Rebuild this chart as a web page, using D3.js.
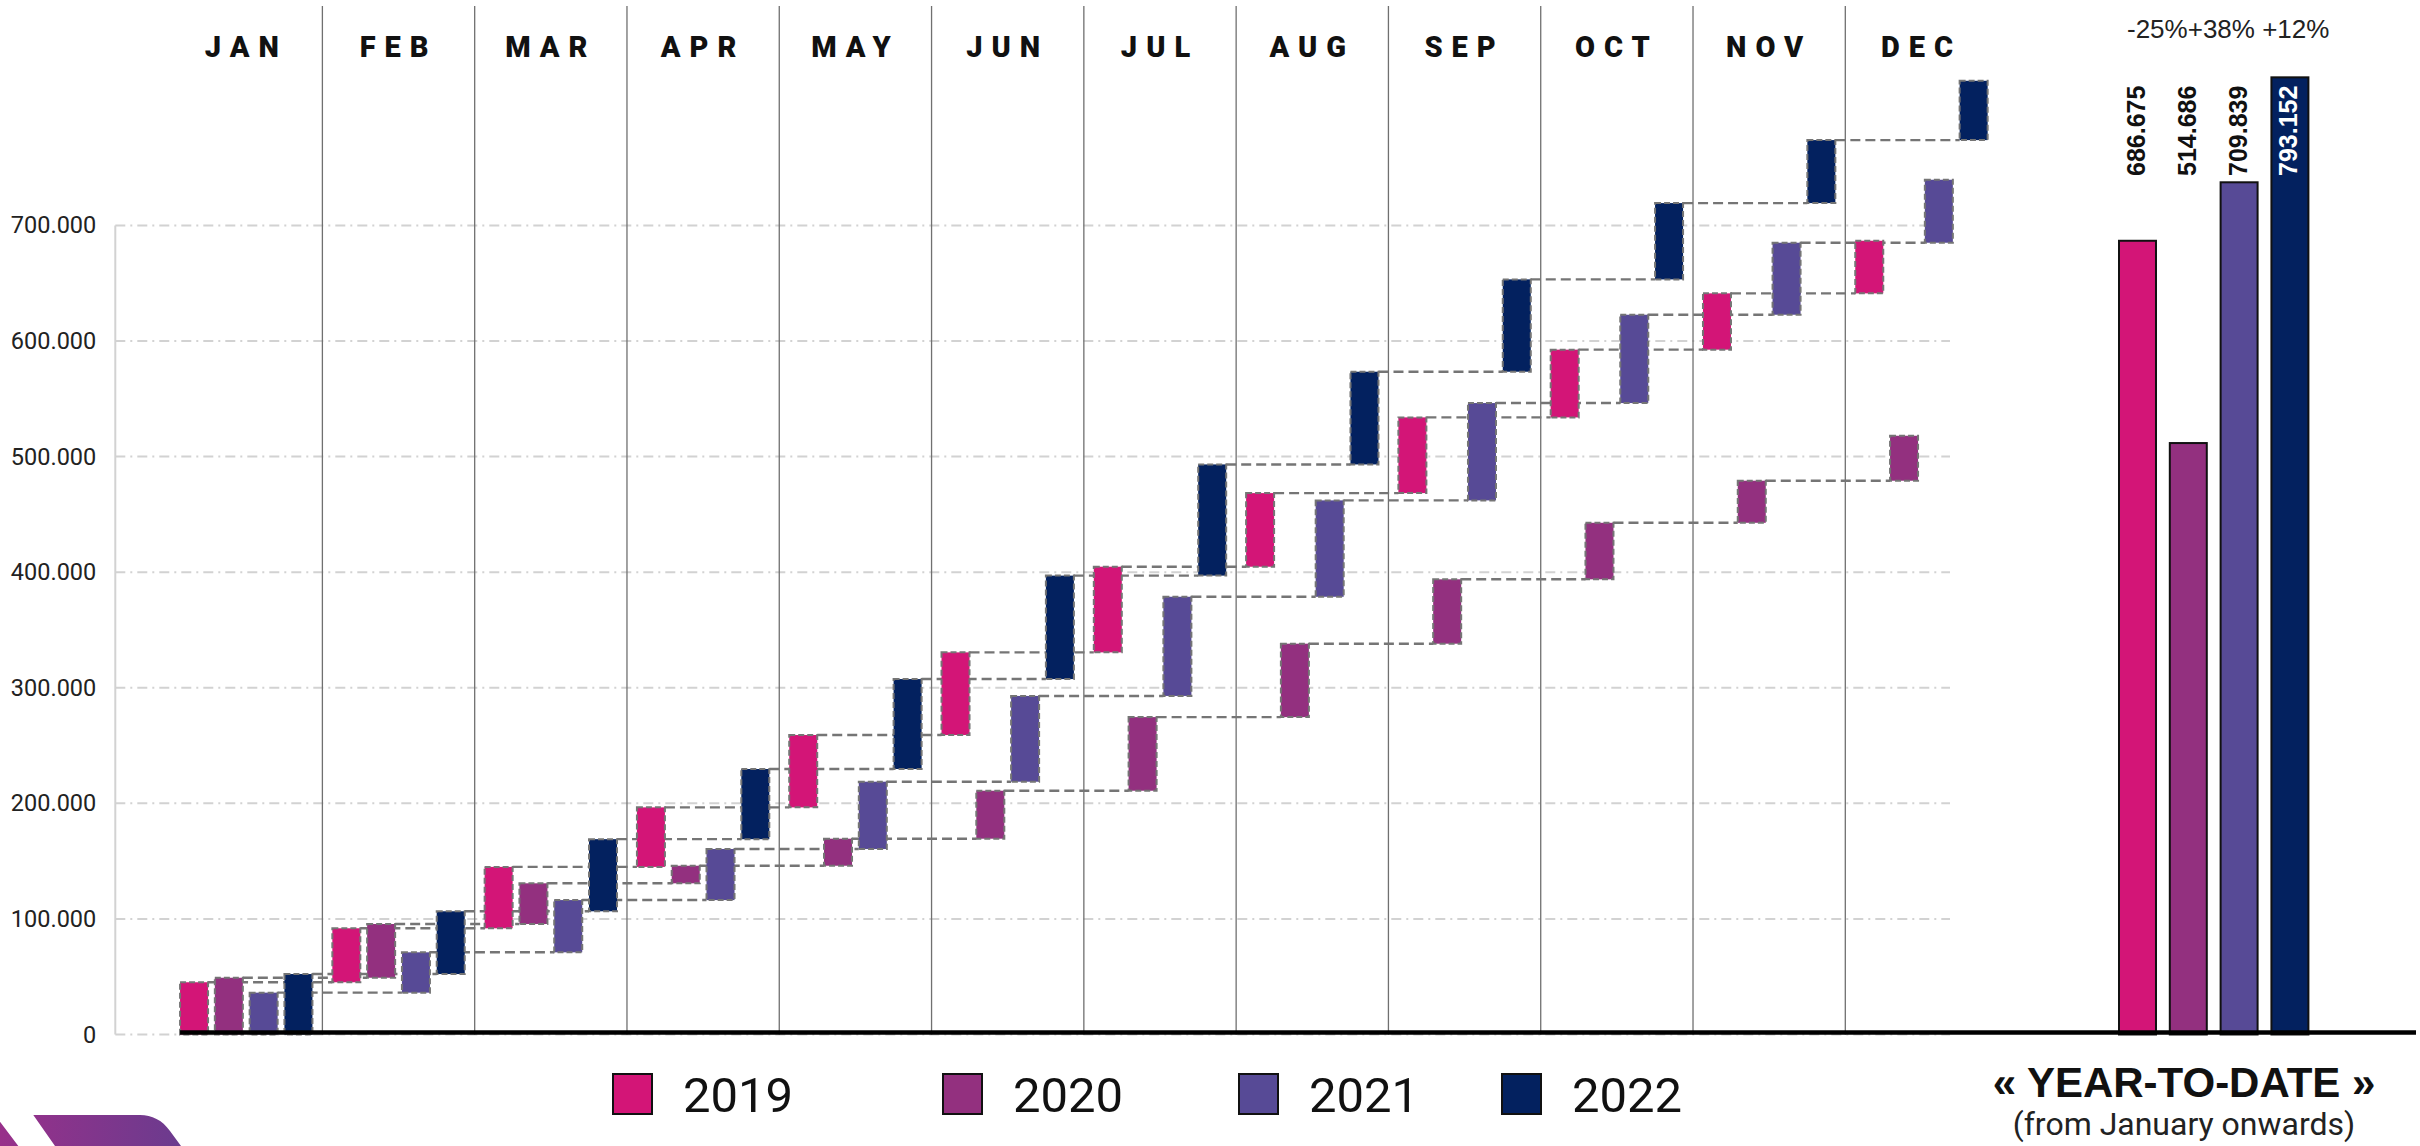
<!DOCTYPE html>
<html>
<head>
<meta charset="utf-8">
<script src="https://cdn.jsdelivr.net/npm/d3@7"></script>
<style>
  body { margin: 0; background: #fff; }
  svg { display: block; }
</style>
</head>
<body>
<div id="chart"></div>
<script>
"use strict";

// categories
const months = ["JAN", "FEB", "MAR", "APR", "MAY", "JUN", "JUL", "AUG", "SEP", "OCT", "NOV", "DEC"];
const years = ["2019", "2020", "2021", "2022"];
const yearColors = ["#d31577", "#93307f", "#574a96", "#03215f"];

// running total at the end of each month
const total2019 = [45200, 91900, 145000, 196500, 259100, 330600, 404700, 468400, 533900, 592500, 641200, 686700];
const total2020 = [49100, 95600, 130800, 146000, 169400, 210900, 274600, 338100, 393800, 442700, 479100, 518000];
const total2021 = [36200, 71100, 116300, 160500, 218700, 292900, 378700, 462100, 546300, 622700, 685000, 739500];
const total2022 = [52300, 106600, 169000, 229700, 307500, 397000, 493200, 573400, 653300, 719300, 773800, 825100];

const yTicks = [0, 100000, 200000, 300000, 400000, 500000, 600000, 700000];

// year-to-date panel
const ytdBars = [686700, 511700, 737300, 828100];
const ytdLabels = ["686.675", "514.686", "709.839", "793.152"];
const ytdChange = ["-25%", "+38%", "+12%"];

// layout
const msm = {
    width: 2420,
    height: 1146,
    axisX: 115.3,
    bandLeft: 170.1,
    bandRight: 1997.6,
    gridRight: 1950,
    yZero: 1034.5,
    yTop: 225.4,
    ytdLeft: 2119,
    ytdRight: 2308.4
};
const legendX = [613, 943, 1239, 1502];

let svgContainer = "";

window.onload = function () {
    svgContainer = d3.select("#chart")
        .append("svg")
        .attr("width", msm.width)
        .attr("height", msm.height);
    makeChart();
}

function makeChart() {
    const totals = [total2019, total2020, total2021, total2022];

    let y = d3.scaleLinear()
        .domain([0, 700000])
        .range([msm.yZero, msm.yTop]);

    let xMonth = d3.scaleBand()
        .domain(months)
        .range([msm.bandLeft, msm.bandRight]);

    let xYear = d3.scaleBand()
        .domain(years)
        .range([0, xMonth.bandwidth()])
        .paddingInner(0.195)
        .paddingOuter(0.286);

    // logo shape bottom left
    let defs = svgContainer.append("defs");
    let grad = defs.append("linearGradient").attr("id", "logoGrad");
    grad.append("stop").attr("offset", "0%").attr("stop-color", "#98308a");
    grad.append("stop").attr("offset", "100%").attr("stop-color", "#6b3b8e");
    svgContainer.append("path")
        .attr("d", "M0,1121.7 L18.3,1146 L0,1146 Z M33.3,1115 L140,1115 C152,1115 162,1120 170,1131 L181,1146 L55,1146 Z")
        .attr("fill", "url(#logoGrad)");

    // horizontal grid
    svgContainer.append("g")
        .selectAll("line")
        .data(yTicks)
        .enter()
        .append("line")
        .attr("x1", msm.axisX)
        .attr("x2", msm.gridRight)
        .attr("y1", (d) => y(d))
        .attr("y2", (d) => y(d))
        .attr("stroke", "#d2d2d2")
        .attr("stroke-width", 2)
        .attr("stroke-dasharray", "10,5,2,5");

    // y axis line
    svgContainer.append("line")
        .attr("x1", msm.axisX)
        .attr("x2", msm.axisX)
        .attr("y1", y(0))
        .attr("y2", y(700000))
        .attr("stroke", "#d2d2d2")
        .attr("stroke-width", 2);

    // y tick labels
    let fmt = (d) => d3.format(",")(d).replace(/,/g, ".");
    let yAxis = d3.axisLeft(y).tickValues(yTicks).tickFormat(fmt).tickSize(0).tickPadding(19);
    let gy = svgContainer.append("g")
        .attr("transform", "translate(" + msm.axisX + ",0)")
        .call(yAxis);
    gy.select(".domain").remove();
    gy.selectAll("text")
        .attr("font-family", "Roboto, sans-serif")
        .attr("font-size", "23.5px")
        .attr("fill", "#222");

    // month separators
    svgContainer.append("g")
        .selectAll("line")
        .data(months.slice(1))
        .enter()
        .append("line")
        .attr("x1", (d) => xMonth(d))
        .attr("x2", (d) => xMonth(d))
        .attr("y1", 6)
        .attr("y2", y(0))
        .attr("stroke", "#707070")
        .attr("stroke-width", 1.3);

    // month labels
    svgContainer.append("g")
        .selectAll("text")
        .data(months)
        .enter()
        .append("text")
        .attr("x", (d) => xMonth(d) + xMonth.bandwidth() / 2)
        .attr("y", 57.3)
        .attr("text-anchor", "middle")
        .attr("font-family", "Roboto, sans-serif")
        .attr("font-weight", 900)
        .attr("font-size", "29px")
        .attr("letter-spacing", "9px")
        .attr("fill", "#111")
        .text((d) => d);

    // waterfall rows
    let boxes = [];
    let links = [];
    years.forEach((yr, i) => {
        totals[i].forEach((v, j) => {
            let start = j == 0 ? 0 : totals[i][j - 1];
            boxes.push({ year: yr, idx: i, month: months[j], start: start, end: v });
            if (j < months.length - 1) {
                links.push({ year: yr, from: months[j], to: months[j + 1], value: v });
            }
        });
    });

    // dashed connectors
    svgContainer.append("g")
        .selectAll("line")
        .data(links)
        .enter()
        .append("line")
        .attr("x1", (d) => xMonth(d.from) + xYear(d.year) + xYear.bandwidth())
        .attr("x2", (d) => xMonth(d.to) + xYear(d.year))
        .attr("y1", (d) => y(d.value))
        .attr("y2", (d) => y(d.value))
        .attr("stroke", "#757575")
        .attr("stroke-width", 2.4)
        .attr("stroke-dasharray", "10,5");

    // floating boxes
    svgContainer.append("g")
        .selectAll("rect")
        .data(boxes)
        .enter()
        .append("rect")
        .attr("x", (d) => xMonth(d.month) + xYear(d.year))
        .attr("y", (d) => y(d.end))
        .attr("width", xYear.bandwidth())
        .attr("height", (d) => y(d.start) - y(d.end))
        .attr("fill", (d) => yearColors[d.idx])
        .attr("stroke", "#757575")
        .attr("stroke-width", 2)
        .attr("stroke-dasharray", "6,3");

    // year-to-date bars
    let xYtd = d3.scaleBand()
        .domain(years)
        .range([msm.ytdLeft, msm.ytdRight])
        .paddingInner(0.272)
        .paddingOuter(0);

    let ytdData = years.map((yr, i) => ({ year: yr, idx: i, bar: ytdBars[i], label: ytdLabels[i] }));

    svgContainer.append("g")
        .selectAll("rect")
        .data(ytdData)
        .enter()
        .append("rect")
        .attr("x", (d) => xYtd(d.year))
        .attr("y", (d) => y(d.bar))
        .attr("width", xYtd.bandwidth())
        .attr("height", (d) => y(0) - y(d.bar))
        .attr("fill", (d) => yearColors[d.idx])
        .attr("stroke", "#111")
        .attr("stroke-width", 2);

    // baseline
    svgContainer.append("line")
        .attr("x1", xMonth(months[0]) + xYear(years[0]))
        .attr("x2", 2416)
        .attr("y1", y(0) - 2)
        .attr("y2", y(0) - 2)
        .attr("stroke", "#000")
        .attr("stroke-width", 4.5);

    // ytd value labels
    svgContainer.append("g")
        .selectAll("text")
        .data(ytdData)
        .enter()
        .append("text")
        .attr("transform", (d) => "translate(" + (xYtd(d.year) + xYtd.bandwidth() / 2) + ",176) rotate(-90)")
        .attr("dy", "0.3em")
        .attr("font-family", "'Liberation Sans', Arial, sans-serif")
        .attr("font-weight", 700)
        .attr("font-size", "25px")
        .attr("fill", (d) => y(d.bar) < 86 ? "#fff" : "#111")
        .text((d) => d.label);

    svgContainer.append("text")
        .attr("x", xYtd(years[0]) + 8)
        .attr("y", 38.3)
        .attr("font-family", "'Liberation Sans', Arial, sans-serif")
        .attr("font-size", "26px")
        .attr("fill", "#222")
        .text(ytdChange[0] + ytdChange[1] + " " + ytdChange[2]);

    svgContainer.append("text")
        .attr("x", 2184)
        .attr("y", 1096.7)
        .attr("text-anchor", "middle")
        .attr("font-family", "'Liberation Sans', Arial, sans-serif")
        .attr("font-weight", 700)
        .attr("font-size", "42px")
        .attr("fill", "#111")
        .text("\u00AB YEAR-TO-DATE \u00BB");

    svgContainer.append("text")
        .attr("x", 2184)
        .attr("y", 1135)
        .attr("text-anchor", "middle")
        .attr("font-family", "Roboto, sans-serif")
        .attr("font-size", "32px")
        .attr("fill", "#222")
        .text("(from January onwards)");

    // legend
    let legend = svgContainer.append("g")
        .selectAll("g")
        .data(years)
        .enter()
        .append("g")
        .attr("transform", (d, i) => "translate(" + legendX[i] + ",0)");

    legend.append("rect")
        .attr("x", 0)
        .attr("y", 1074)
        .attr("width", 39)
        .attr("height", 40)
        .attr("fill", (d, i) => yearColors[i])
        .attr("stroke", "#111")
        .attr("stroke-width", 2);

    legend.append("text")
        .attr("x", 70)
        .attr("y", 1112)
        .attr("font-family", "Roboto, sans-serif")
        .attr("font-size", "49px")
        .attr("fill", "#111")
        .text((d) => d);
}
</script>
</body>
</html>
